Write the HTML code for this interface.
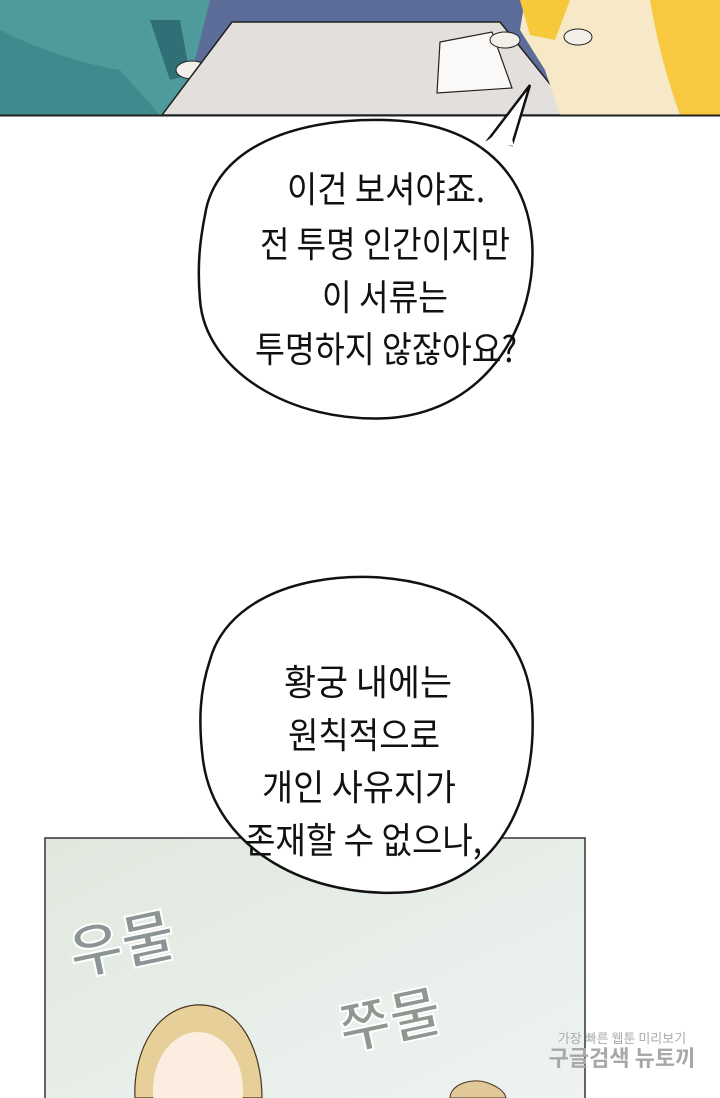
<!DOCTYPE html>
<html><head><meta charset="utf-8">
<style>
html,body{margin:0;padding:0;background:#fff;}
body{width:720px;height:1098px;overflow:hidden;position:relative;font-family:"Liberation Sans","Noto Sans CJK KR",sans-serif;}
svg{position:absolute;left:0;top:0;}
.t{font-family:"Noto Sans CJK KR","NanumGothic",sans-serif;font-size:36px;fill:#111;}
</style></head><body>
<svg width="720" height="1098" viewBox="0 0 720 1098">
<rect x="0" y="0" width="720" height="115" fill="#5d6d9a"/>
<path d="M0 0 L210 0 L200 40 L190 80 L200 115 L0 115 Z" fill="#4f9a9a"/>
<path d="M0 30 Q60 60 120 70 L160 115 L0 115Z" fill="#3f8a8c"/>
<path d="M150 20 L180 20 L190 75 L170 80Z" fill="#2f6f75"/>
<ellipse cx="192" cy="70" rx="16" ry="9" fill="#f3efe9" stroke="#222" stroke-width="1"/>
<polygon points="232,22 500,22 575,115 162,115" fill="#e3dfdc" stroke="#222" stroke-width="1.5"/>
<polygon points="440,42 492,32 512,88 437,93" fill="#fbf9f7" stroke="#222" stroke-width="1.2"/>
<path d="M525 0 L720 0 L720 115 L560 115 L545 70 L520 30Z" fill="#f7e9c7"/>
<path d="M520 0 L570 0 L555 40 L530 35Z" fill="#f6c93a"/>
<path d="M650 0 L720 0 L720 115 L680 115 Q660 60 650 0Z" fill="#f8c940"/>
<ellipse cx="505" cy="40" rx="15" ry="8" fill="#f3efe9" stroke="#222" stroke-width="1"/>
<ellipse cx="578" cy="37" rx="14" ry="8" fill="#f3efe9" stroke="#222" stroke-width="1"/>
<line x1="0" y1="115.5" x2="720" y2="115.5" stroke="#222" stroke-width="2"/>

<path d="M205 215 C215 150 290 118 385 120 C470 122 525 165 532 240 C538 320 490 410 390 418 C290 424 205 370 200 300 C197 265 200 240 205 215Z" fill="#fff" stroke="#111" stroke-width="2.5"/>
<path d="M488 140 L530 85 L512 145Z" fill="#fff" stroke="#111" stroke-width="2.5"/>
<path d="M484 143 L514 146 L508 125Z" fill="#fff"/>
<text class="t" x="287" y="202" textLength="198" lengthAdjust="spacingAndGlyphs">이건 보셔야죠.</text>
<text class="t" x="260" y="257" textLength="250" lengthAdjust="spacingAndGlyphs">전 투명 인간이지만</text>
<text class="t" x="322" y="310" textLength="126" lengthAdjust="spacingAndGlyphs">이 서류는</text>
<text class="t" x="255" y="362" textLength="262" lengthAdjust="spacingAndGlyphs">투명하지 않잖아요?</text>

<defs><linearGradient id="g" x1="0" y1="0" x2="1" y2="1"><stop offset="0" stop-color="#e0e8de"/><stop offset="1" stop-color="#eef3f2"/></linearGradient></defs>
<rect x="45" y="838" width="540" height="262" fill="url(#g)" stroke="#333" stroke-width="1.5"/>
<path d="M135 1098 C133 1060 150 1010 195 1005 C240 1002 262 1050 262 1098Z" fill="#e6cf98" stroke="#4a3520" stroke-width="1.2"/>
<ellipse cx="198" cy="1090" rx="45" ry="58" fill="#fbeee0"/>
<path d="M450 1098 C450 1085 470 1078 485 1082 C498 1086 505 1092 506 1098Z" fill="#e0c89a" stroke="#4a3520" stroke-width="1"/>
<text x="122" y="965" font-size="58" font-weight="bold" fill="#8c9595" stroke="#fff" stroke-width="2" text-anchor="middle" font-family="Noto Sans CJK KR,sans-serif" transform="rotate(-12 122 945)">우물</text>
<text x="390" y="1040" font-size="56" font-weight="bold" fill="#909690" stroke="#fff" stroke-width="2" text-anchor="middle" font-family="Noto Sans CJK KR,sans-serif" transform="rotate(-12 390 1020)">쭈물</text>
<text x="622" y="1043" font-size="13" fill="#aaa" text-anchor="middle" font-family="Noto Sans CJK KR,sans-serif">가장 빠른 웹툰 미리보기</text>
<text x="622" y="1066" font-size="22" font-weight="bold" fill="#a8a8a8" text-anchor="middle" font-family="Noto Sans CJK KR,sans-serif">구글검색 뉴토끼</text>

<path d="M210 660 C225 605 290 575 370 577 C460 580 525 625 532 705 C538 790 505 880 410 892 C310 900 215 850 203 760 C198 720 200 690 210 660Z" fill="#fff" stroke="#111" stroke-width="2.5"/>
<text class="t" x="284" y="695" textLength="168" lengthAdjust="spacingAndGlyphs">황궁 내에는</text>
<text class="t" x="288" y="748" textLength="152" lengthAdjust="spacingAndGlyphs">원칙적으로</text>
<text class="t" x="262" y="800" textLength="194" lengthAdjust="spacingAndGlyphs">개인 사유지가</text>
<text class="t" x="245" y="853" textLength="237" lengthAdjust="spacingAndGlyphs">존재할 수 없으나,</text>
</svg>
</body></html>
